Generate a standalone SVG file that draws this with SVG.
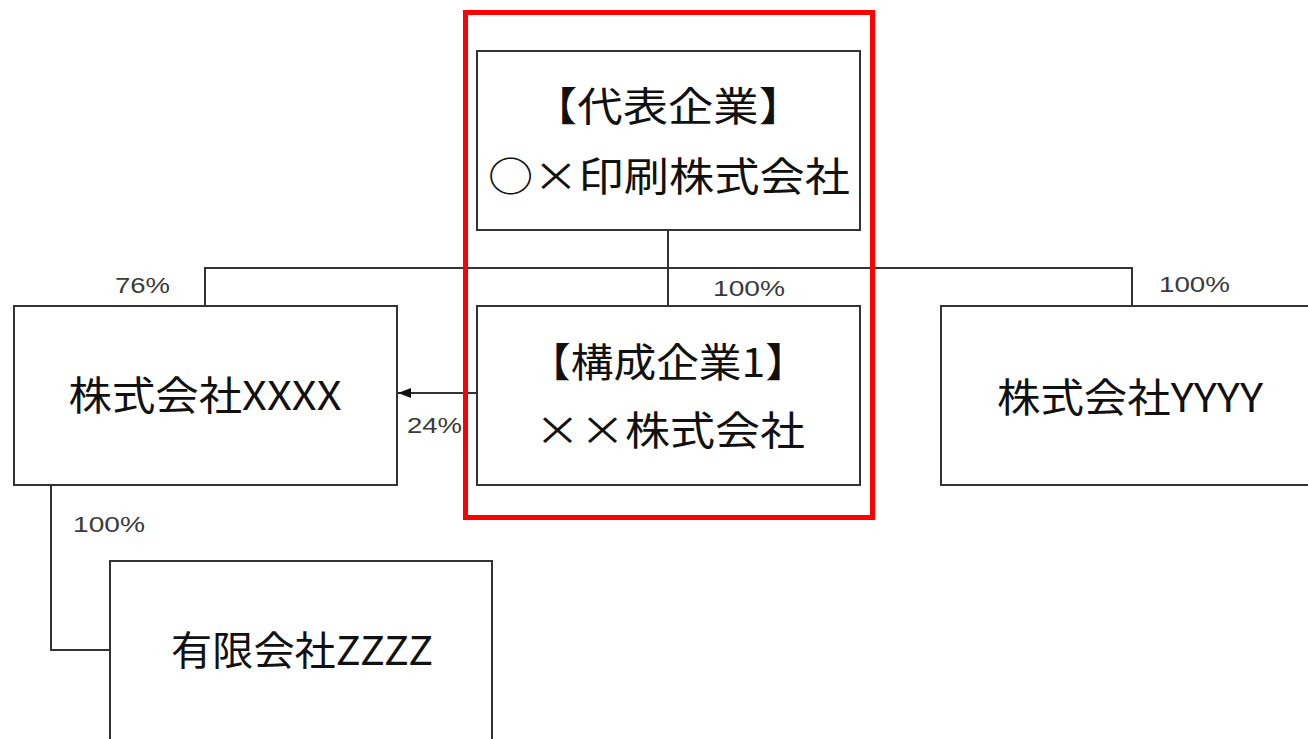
<svg xmlns="http://www.w3.org/2000/svg" width="1308" height="739" viewBox="0 0 1308 739">
<style>
.box{fill:#fff;stroke:#333;stroke-width:2}
.ln{fill:none;stroke:#333;stroke-width:2}
.t{font-family:"Noto Sans CJK JP","Noto Sans",sans-serif;font-size:40px;fill:#111;text-anchor:middle;dominant-baseline:central}
.p{font-family:"Liberation Sans","Noto Sans",sans-serif;font-size:22px;fill:#3a3a3a}
</style>
<defs>
<marker id="ah" viewBox="0 0 13 10" refX="13" refY="5" markerWidth="6.5" markerHeight="5" orient="auto" markerUnits="strokeWidth">
<path d="M0,0 L13,5 L0,10 Z" fill="#111"/>
</marker>
</defs>
<rect width="1308" height="739" fill="#fff"/>
<g id="connectors">
<path class="ln" d="M668,230 V306"/>
<path class="ln" d="M205,306 V268 H1132 V306"/>
<path class="ln" d="M477,393 H398" marker-end="url(#ah)"/>
<path class="ln" d="M51,485 V650 H110"/>
<text class="p" x="115" y="293" textLength="55" lengthAdjust="spacingAndGlyphs">76%</text>
<text class="p" x="713" y="296" textLength="72" lengthAdjust="spacingAndGlyphs">100%</text>
<text class="p" x="1159" y="292" textLength="71" lengthAdjust="spacingAndGlyphs">100%</text>
<text class="p" x="407" y="433" textLength="55" lengthAdjust="spacingAndGlyphs">24%</text>
<text class="p" x="73" y="532" textLength="72" lengthAdjust="spacingAndGlyphs">100%</text>
</g>
<g id="node-rep">
<rect class="box" x="477" y="51" width="383" height="179"/>
<text class="t" x="668" y="104" textLength="272" lengthAdjust="spacingAndGlyphs">【代表企業】</text>
<text class="t" x="669" y="174" textLength="362" lengthAdjust="spacingAndGlyphs">○×印刷株式会社</text>
</g>
<g id="node-member1">
<rect class="box" x="477" y="306" width="383" height="179"/>
<text class="t" x="668" y="360" textLength="280" lengthAdjust="spacingAndGlyphs">【構成企業1】</text>
<text class="t" x="670" y="428" textLength="270" lengthAdjust="spacingAndGlyphs">××株式会社</text>
</g>
<g id="node-xxxx">
<rect class="box" x="14" y="306" width="383" height="179"/>
<text class="t" x="205" y="393" textLength="273" lengthAdjust="spacingAndGlyphs">株式会社XXXX</text>
</g>
<g id="node-yyyy">
<rect class="box" x="941" y="306" width="384" height="179"/>
<text class="t" x="1130" y="395" textLength="266" lengthAdjust="spacingAndGlyphs">株式会社YYYY</text>
</g>
<g id="node-zzzz">
<rect class="box" x="110" y="561" width="382" height="200"/>
<text class="t" x="302" y="648" textLength="262" lengthAdjust="spacingAndGlyphs">有限会社ZZZZ</text>
</g>
<g id="group-frame">
<rect x="465.5" y="12.5" width="407" height="505" fill="none" stroke="#f00" stroke-width="5"/>
</g>
</svg>
